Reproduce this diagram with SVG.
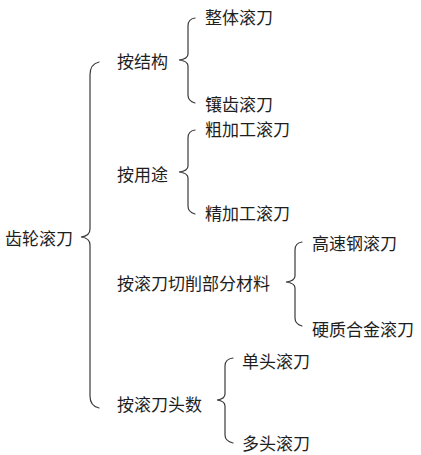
<svg xmlns="http://www.w3.org/2000/svg" width="421" height="455" viewBox="0 0 421 455">
<style>
.t{font-family:"Noto Sans CJK SC","Noto Sans",sans-serif;font-size:17px;fill:#1e1e1e;dominant-baseline:central}
.b{fill:none;stroke:#3a3a3a;stroke-width:1.2;stroke-linecap:round}
</style>
<rect width="421" height="455" fill="#fff"/>
<g id="connectors">
<path class="b" d="M99,62 Q90,64 90,75 L90,229 Q90,236 81,237 Q90,238 90,245 L90,396 Q90,406 99,408"/>
<path class="b" d="M195,18 Q188,19 188,26 L188,54 Q188,59 179,60 Q188,61 188,66 L188,95 Q188,101 195,103"/>
<path class="b" d="M195,130 Q188,131 188,138 L188,166 Q188,171 179,172 Q188,173 188,178 L188,206 Q188,212 195,214"/>
<path class="b" d="M302,242 Q295,243 295,250 L295,276 Q295,281 286,282 Q295,283 295,288 L295,318 Q295,324 302,326"/>
<path class="b" d="M233,358 Q225,359 225,366 L225,394 Q225,399 217,400 Q225,401 225,406 L225,435 Q225,441 233,443"/>
</g>
<g id="root"><text class="t" x="5" y="237">齿轮滚刀</text></g>
<g id="n1"><text class="t" x="117" y="60">按结构</text></g>
<g id="n1a"><text class="t" x="205" y="16">整体滚刀</text></g>
<g id="n1b"><text class="t" x="205" y="103">镶齿滚刀</text></g>
<g id="n2"><text class="t" x="117" y="173">按用途</text></g>
<g id="n2a"><text class="t" x="205" y="128">粗加工滚刀</text></g>
<g id="n2b"><text class="t" x="205" y="212">精加工滚刀</text></g>
<g id="n3"><text class="t" x="117" y="282">按滚刀切削部分材料</text></g>
<g id="n3a"><text class="t" x="312" y="242">高速钢滚刀</text></g>
<g id="n3b"><text class="t" x="312" y="328">硬质合金滚刀</text></g>
<g id="n4"><text class="t" x="117" y="403">按滚刀头数</text></g>
<g id="n4a"><text class="t" x="242" y="360">单头滚刀</text></g>
<g id="n4b"><text class="t" x="242" y="442">多头滚刀</text></g>
</svg>
